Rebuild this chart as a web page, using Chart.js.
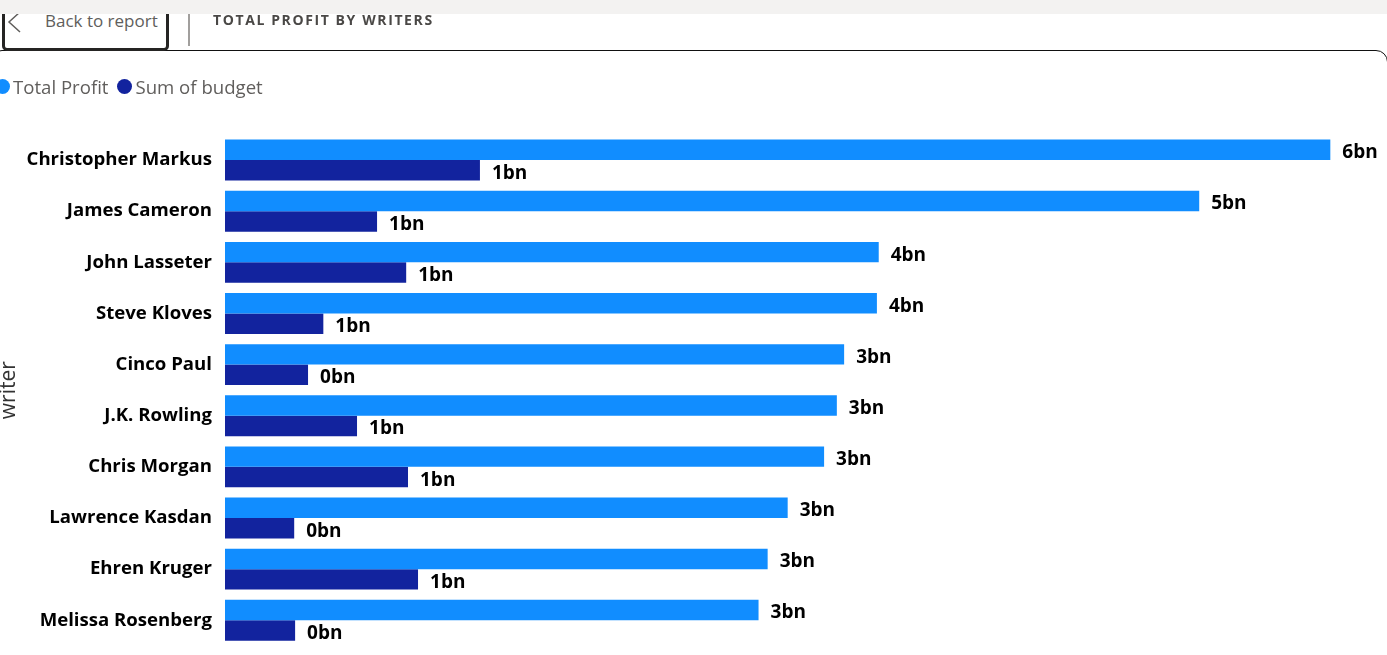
<!DOCTYPE html>
<html>
<head>
<meta charset="utf-8">
<title>Total Profit by Writers</title>
<script src="https://cdn.jsdelivr.net/npm/chart.js@4/dist/chart.umd.min.js"></script>
<style>
    html, body { margin: 0; padding: 0; background: #fff; overflow: hidden; }
    body { width: 1387px; height: 655px; position: relative; font-family: "Open Sans", sans-serif; }
    #topBand { position: absolute; left: 0; top: 0; width: 1387px; height: 14px; background: #f3f2f1; z-index: 3; }
    #backBtn { position: absolute; left: 2px; top: -10px; width: 161px; height: 55px; border: 3px solid #252423; border-radius: 5px; background: #fff; z-index: 2; }
    #backText { position: absolute; left: 45px; top: 9px; font-size: 17px; line-height: 24px; color: #605e5c; z-index: 2; }
    #backArrow { position: absolute; left: 7px; top: 11px; z-index: 2; }
    #divider { position: absolute; left: 188px; top: 14px; width: 2px; height: 32px; background: #a19f9d; z-index: 2; }
    #pageTitle { position: absolute; left: 213px; top: 10px; font-size: 14px; line-height: 20px; font-weight: 700; letter-spacing: 1.6px; color: #4a4846; z-index: 2; }
    #frame { position: absolute; left: -10px; top: 50px; width: 1396px; height: 640px; border: 1.5px solid #111; border-radius: 12px; z-index: 1; }
    #legend { position: absolute; left: -5px; top: 73px; height: 26px; display: flex; align-items: center; font-size: 18.6px; color: #605e5c; z-index: 2; }
    #legend .item { display: flex; align-items: center; margin-right: 9px; }
    #legend .dot { width: 15px; height: 15px; border-radius: 50%; margin-right: 3px; }
    #chartBox { position: absolute; left: 0; top: 0; width: 1387px; height: 670px; }
</style>
</head>
<body>
<div id="chartBox"><canvas id="writerChart"></canvas></div>
<div id="frame"></div>
<div id="topBand"></div>
<div id="backBtn"></div>
<svg id="backArrow" width="16" height="22"><path d="M13 1 L2 11 L13 21" fill="none" stroke="#605e5c" stroke-width="1.5"/></svg>
<div id="backText">Back to report</div>
<div id="divider"></div>
<div id="pageTitle">TOTAL PROFIT BY WRITERS</div>
<div id="legend"></div>
<script>
// values in billions
const writers = ['Christopher Markus', 'James Cameron', 'John Lasseter', 'Steve Kloves', 'Cinco Paul',
    'J.K. Rowling', 'Chris Morgan', 'Lawrence Kasdan', 'Ehren Kruger', 'Melissa Rosenberg'];
const totalProfit = [6.07, 5.35, 3.59, 3.58, 3.40, 3.36, 3.29, 3.09, 2.98, 2.93];
const sumOfBudget = [1.40, 0.835, 0.995, 0.54, 0.456, 0.725, 1.005, 0.38, 1.06, 0.385];
const seriesNames = ['Total Profit', 'Sum of budget'];
const seriesColors = ['#118DFF', '#12239E'];

// legend sits in the page, the first dot is clipped by the window edge
document.getElementById('legend').innerHTML = seriesNames.map((name, i) =>
    `<span class="item"><span class="dot" style="background:${seriesColors[i]}"></span>${name}</span>`).join('');

// "6bn" style labels at the end of each bar
const barLabels = {
    id: 'barLabels',
    afterDatasetsDraw(chart) {
        const c = chart.ctx;
        c.save();
        c.font = '700 19px "Open Sans"';
        c.fillStyle = '#000';
        c.textBaseline = 'middle';
        chart.data.datasets.forEach((ds, i) => {
            chart.getDatasetMeta(i).data.forEach((bar, j) => {
                c.fillText(Math.round(ds.data[j]) + 'bn', bar.x + 12, bar.y + 3);
            });
        });
        c.restore();
    }
};

new Chart(document.getElementById('writerChart'), {
    type: 'bar',
    data: {
        labels: writers,
        datasets: [
            { label: seriesNames[0], data: totalProfit, backgroundColor: seriesColors[0] },
            { label: seriesNames[1], data: sumOfBudget, backgroundColor: seriesColors[1] }
        ]
    },
    options: {
        indexAxis: 'y',
        responsive: true,
        maintainAspectRatio: false,
        animation: false,
        categoryPercentage: 0.8,
        barPercentage: 1,
        layout: { padding: { top: 134.5, bottom: 8.5, left: 0, right: 33 } },
        plugins: {
            legend: { display: false },
            tooltip: { enabled: false }
        },
        scales: {
            x: {
                display: false,
                min: 0,
                max: 6.2
            },
            y: {
                afterFit(scale) { scale.width = 225; },
                grid: { display: false, drawTicks: false },
                border: { display: false },
                ticks: {
                    color: '#000',
                    padding: 13,
                    font: { family: 'Open Sans', size: 18.6, weight: '700' }
                },
                title: {
                    display: true,
                    text: 'writer',
                    color: '#333',
                    padding: { top: -4, bottom: 0 },
                    font: { family: 'Open Sans', size: 21 }
                }
            }
        }
    },
    plugins: [barLabels]
});
</script>
</body>
</html>
